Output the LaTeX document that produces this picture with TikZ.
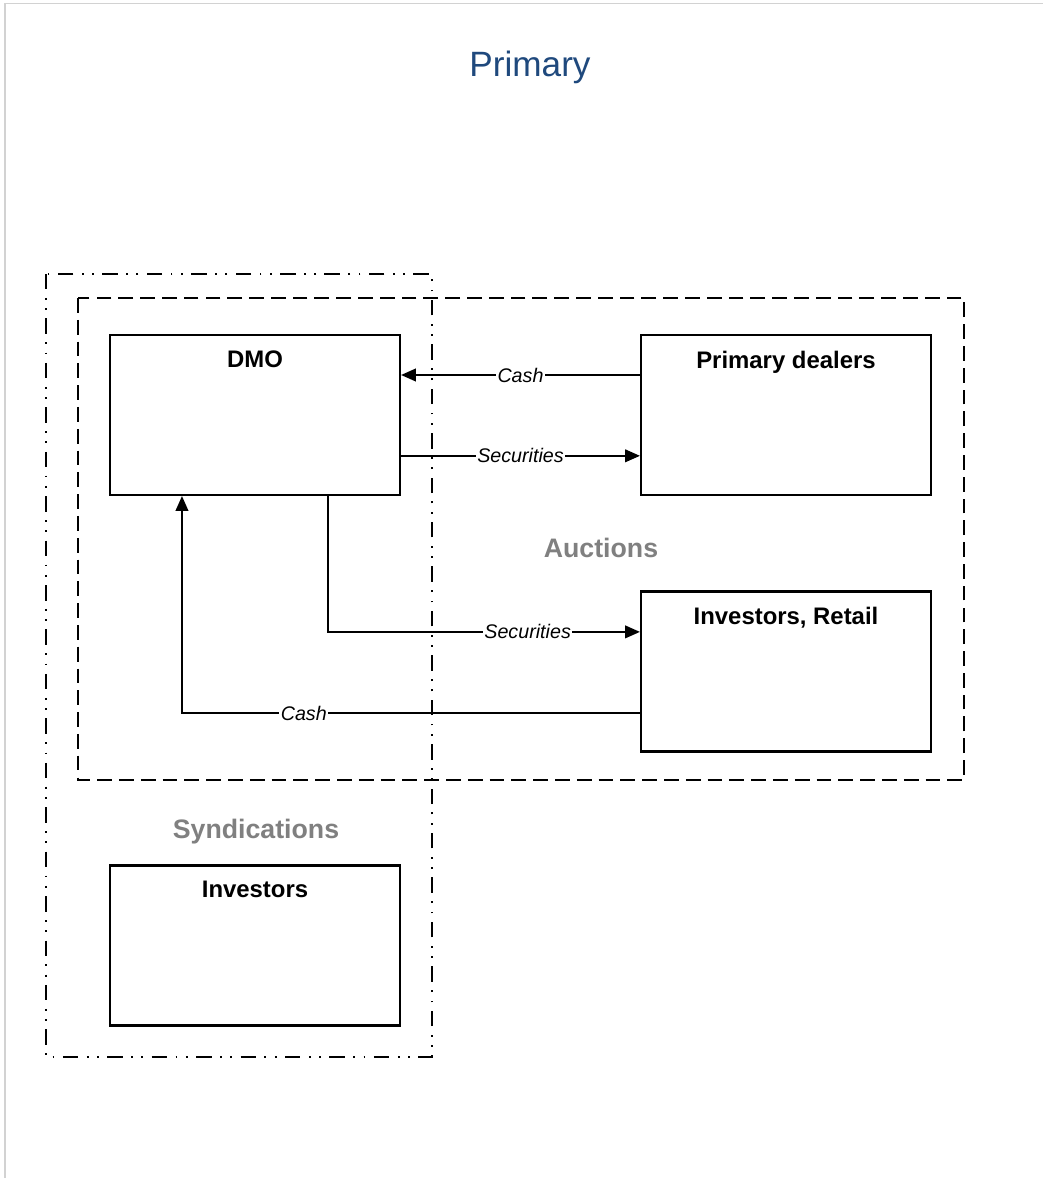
\documentclass[tikz,border=0pt]{standalone}
\usepackage{fontspec}
\setmainfont{Liberation Sans}
\usepackage{tikz}
\usepackage{xcolor}
\usetikzlibrary{arrows.meta}

\definecolor{titleblue}{HTML}{1F497D}
\definecolor{groupgray}{HTML}{808080}

\tikzset{
	party/.style={draw,line width=1.5pt,minimum width=7.25cm,minimum height=4cm,inner sep=0pt},
	partytitle/.style={anchor=north,yshift=-0.3cm,font=\bfseries\fontsize{17}{20}\selectfont},
	flow/.style={line width=1.2pt,-{Triangle[length=10.5pt,width=9pt]}},
	flowlabel/.style={fill=white,inner sep=1pt,font=\itshape\fontsize{14}{16}\selectfont},
	grouplabel/.style={text=groupgray,font=\bfseries\fontsize{19}{22}\selectfont},
	auctionframe/.style={line width=1.4pt,dash pattern=on 10.5pt off 5pt},
	syndframe/.style={line width=1.4pt,dash pattern=on 11pt off 6pt on 1.3pt off 6pt on 1.3pt off 6pt}
}

\begin{document}
\begin{tikzpicture}[x=0.025cm,y=-0.025cm]
			\fill[white] (0,0) rectangle (1043,1178);
			\useasboundingbox (0,0) rectangle (1043,1178);
			\draw[gray!35,line width=1.2pt] (1043,3.5) -- (5,3.5) -- (5,1178);

			\node[text=titleblue,font=\fontsize{25}{30}\selectfont] (title) at (530,67) {Primary};

			\draw[syndframe] (46,274) rectangle (432,1057);
			\draw[auctionframe] (78,298) rectangle (964,780);

			\node[grouplabel] (auctions) at (601,548) {Auctions};
			\node[grouplabel] (syndications) at (256,832) {Syndications};

			\node[party,label={[partytitle]north:DMO}] (dmo) at (255,415) {};
			\node[party,label={[partytitle]north:Primary dealers}] (dealers) at (786,415) {};
			\node[party,label={[partytitle]north:{Investors, Retail}}] (retail) at (786,671.5) {};
			\node[party,label={[partytitle]north:Investors}] (investors) at (255,945.5) {};

			\draw[flow] ([yshift=1cm]dealers.west) -- node[flowlabel] {Cash} ([yshift=1cm]dmo.east);
			\draw[flow] ([yshift=-1.02cm]dmo.east) -- node[flowlabel] {Securities} ([yshift=-1.02cm]dealers.west);
			\draw[flow] ([xshift=1.825cm]dmo.south) |- node[flowlabel,pos=0.82] {Securities} ([yshift=0.99cm]retail.west);
			\draw[flow] ([yshift=-1.04cm]retail.west) -| node[flowlabel,pos=0.367] {Cash} ([xshift=-1.825cm]dmo.south);
		\end{tikzpicture}
\end{document}
